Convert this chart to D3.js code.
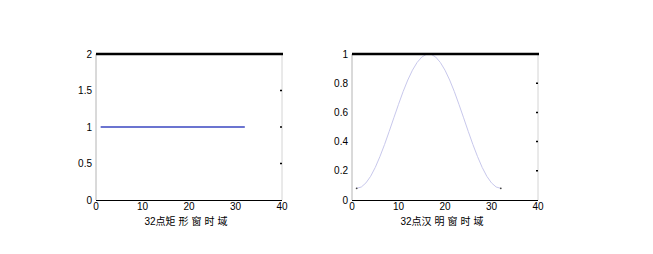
<!DOCTYPE html>
<html>
<head>
<meta charset="utf-8">
<script src="https://cdn.jsdelivr.net/npm/d3@7"></script>
<style>
  body { margin: 0; background: #fff; }
  svg text { font-family: "Liberation Sans", Arial, sans-serif; }
</style>
</head>
<body>
<div id="chart"></div>
<script>
// data
const n = d3.range(1, 33);
const rectWin = n.map(() => 1);
const hammingWin = [0.080, 0.089, 0.117, 0.162, 0.223, 0.297, 0.380, 0.470,
  0.563, 0.655, 0.743, 0.822, 0.889, 0.942, 0.979, 0.998,
  0.998, 0.979, 0.942, 0.889, 0.822, 0.743, 0.655, 0.563,
  0.470, 0.380, 0.297, 0.223, 0.162, 0.117, 0.089, 0.080];
const xTicks = [0, 10, 20, 30, 40];
const rectYTicks = [0, 0.5, 1, 1.5, 2];
const hamYTicks = [0, 0.2, 0.4, 0.6, 0.8, 1];

const svg = d3.select("#chart").append("svg")
    .attr("width", 653)
    .attr("height", 254);

function panel(left, right, yMax, yTicks, values, lineColor, lineWidth, label) {
    const x = d3.scaleLinear().domain([0, 40]).range([left, right]);
    const y = d3.scaleLinear().domain([0, yMax]).range([200, 54]);
    const g = svg.append("g");

    // frame
    g.append("line").attr("x1", left).attr("x2", left).attr("y1", 54).attr("y2", 200)
        .attr("stroke", "#b4b4b4").attr("stroke-width", 1);
    g.append("line").attr("x1", right).attr("x2", right).attr("y1", 54).attr("y2", 200)
        .attr("stroke", "#d4d4d4").attr("stroke-width", 1);

    // small tick marks on right side
    g.selectAll(".rt").data(yTicks.filter(t => t > 0 && t < yMax)).enter().append("line")
        .attr("x1", right - 2).attr("x2", right)
        .attr("y1", d => y(d)).attr("y2", d => y(d))
        .attr("stroke", "#000").attr("stroke-width", 1.5);

    // data line
    g.append("path")
        .datum(values)
        .attr("fill", "none")
        .attr("stroke", lineColor)
        .attr("stroke-width", lineWidth)
        .attr("d", d3.line().x((d, i) => x(n[i])).y(d => y(d)));

    g.append("line").attr("x1", left).attr("x2", right).attr("y1", 200.5).attr("y2", 200.5)
        .attr("stroke", "#000").attr("stroke-width", 1);
    g.append("line").attr("x1", left).attr("x2", right + 1).attr("y1", 54).attr("y2", 54)
        .attr("stroke", "#000").attr("stroke-width", 2.5);

    // tick labels
    g.selectAll(".xl").data(xTicks).enter().append("text")
        .attr("x", d => x(d)).attr("y", 210)
        .attr("text-anchor", "middle")
        .attr("font-size", 10)
        .text(d => d);
    g.selectAll(".yl").data(yTicks).enter().append("text")
        .attr("x", left - 4).attr("y", d => y(d) + 3.5)
        .attr("text-anchor", "end")
        .attr("font-size", 10)
        .text(d => d);

    const t = g.append("text")
        .attr("x", (left + right) / 2 - 3).attr("y", 225)
        .attr("text-anchor", "middle")
        .attr("font-size", 10)
        .style("font-family", "'Liberation Sans', 'Noto Sans CJK SC', sans-serif");
    t.append("tspan").text(label.slice(0, 3));
    t.append("tspan").attr("letter-spacing", 3).text(label.slice(3, -1));
    t.append("tspan").text(label.slice(-1));
    return { g, x, y };
}

panel(96, 282, 2, rectYTicks, rectWin, "#3a46c0", 1.6, "32点矩形窗时域");
const p2 = panel(352, 538, 1, hamYTicks, hammingWin, "#c8c8ec", 1, "32点汉明窗时域");

// end markers of hamming curve
p2.g.selectAll(".end").data([0, 31]).enter().append("circle")
    .attr("cx", i => p2.x(n[i])).attr("cy", i => p2.y(hammingWin[i]))
    .attr("r", 0.9).attr("fill", "#444");
</script>
</body>
</html>
